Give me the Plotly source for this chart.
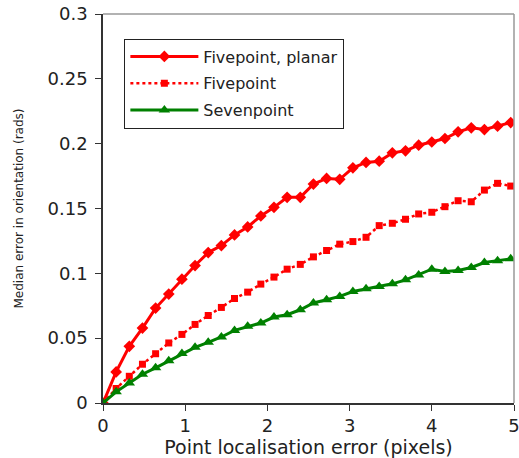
import plotly.graph_objects as go

x_vals = [0.0, 0.16, 0.32, 0.48, 0.64, 0.80, 0.96, 1.12, 1.28, 1.44, 1.60, 1.76, 1.92, 2.08, 2.24, 2.40,
          2.56, 2.72, 2.88, 3.04, 3.20, 3.36, 3.52, 3.68, 3.84, 4.00, 4.16, 4.32, 4.48, 4.64, 4.80, 4.96]

fivepoint_planar = [0, 0.024, 0.0437, 0.0578, 0.0732, 0.084, 0.0955, 0.106, 0.116, 0.1214, 0.1296, 0.1358,
                    0.1442, 0.1509, 0.1586, 0.1586, 0.1688, 0.1732, 0.1725, 0.1814, 0.1855, 0.1865, 0.1929,
                    0.1945, 0.1988, 0.2013, 0.204, 0.2091, 0.2122, 0.2109, 0.2135, 0.2163]

fivepoint = [0, 0.0112, 0.0206, 0.0299, 0.038, 0.0463, 0.0529, 0.0606, 0.0675, 0.0737, 0.0806, 0.0855,
             0.0917, 0.0971, 0.1032, 0.1069, 0.1127, 0.1176, 0.1225, 0.1245, 0.1278, 0.1368, 0.1386,
             0.1417, 0.1458, 0.1471, 0.1514, 0.156, 0.1552, 0.1642, 0.1694, 0.1673]

sevenpoint = [0, 0.0086, 0.0155, 0.0222, 0.0271, 0.0325, 0.0381, 0.0429, 0.0468, 0.0509, 0.056, 0.0591,
              0.0617, 0.0663, 0.0681, 0.0719, 0.0771, 0.0796, 0.0822, 0.086, 0.0881, 0.0898, 0.0919,
              0.095, 0.0988, 0.1032, 0.1014, 0.1022, 0.1045, 0.1083, 0.1098, 0.1112]

series_names = ["Fivepoint, planar", "Fivepoint", "Sevenpoint"]

x_ticks = [0, 1, 2, 3, 4, 5]
x_tick_labels = ["0", "1", "2", "3", "4", "5"]
y_ticks = [0, 0.05, 0.1, 0.15, 0.2, 0.25, 0.3]
y_tick_labels = ["0", "0.05", "0.1", "0.15", "0.2", "0.25", "0.3"]

RED = "#ff0000"
GREEN = "#008000"
FONT = "DejaVu Sans"
TXT = "#222222"

fig = go.Figure()
fig.add_trace(go.Scatter(
    x=x_vals, y=fivepoint_planar, name=series_names[0], mode="lines+markers", legendgroup="a",
    line=dict(color=RED, width=3),
    marker=dict(symbol="diamond", size=9, color=RED),
))
fig.add_trace(go.Scatter(
    x=x_vals, y=fivepoint, name=series_names[1], mode="lines+markers", legendgroup="b",
    line=dict(color=RED, width=2.5, dash="dot"),
    marker=dict(symbol="square", size=7, color=RED),
))
fig.add_trace(go.Scatter(
    x=x_vals, y=sevenpoint, name=series_names[2], mode="lines+markers", legendgroup="c",
    line=dict(color=GREEN, width=3),
    marker=dict(symbol="triangle-up", size=10, color=GREEN),
))

fig.update_layout(
    width=519, height=458,
    margin=dict(l=102.5, r=5, t=13.5, b=54.5, autoexpand=False),
    paper_bgcolor="white", plot_bgcolor="white",
    font=dict(family=FONT, color=TXT),
    showlegend=True,
    legend=dict(
        x=0.052, y=0.937, xanchor="left", yanchor="top",
        bordercolor=TXT, borderwidth=1, bgcolor="white",
        font=dict(size=16, family=FONT, color=TXT),
        itemwidth=68, tracegroupgap=3,
    ),
    xaxis=dict(
        range=[0, 5], tickmode="array", tickvals=x_ticks, ticktext=x_tick_labels,
        ticklabeloverflow="allow", automargin=False,
        showgrid=False, zeroline=False, showline=True, linecolor="#333333", linewidth=1.5,
        ticks="outside", ticklen=6, tickcolor="#333333", tickwidth=1,
        tickfont=dict(size=18, family=FONT, color=TXT),
        title=dict(text="Point localisation error (pixels)", font=dict(size=19, family=FONT, color=TXT), standoff=6),
    ),
    yaxis=dict(
        range=[0, 0.3], tickmode="array", tickvals=y_ticks, ticktext=y_tick_labels,
        automargin=False,
        showgrid=False, zeroline=False, showline=True, linecolor="#333333", linewidth=1.5,
        ticks="outside", ticklen=6, tickcolor="#333333", tickwidth=1, ticklabelstandoff=4,
        tickfont=dict(size=18, family=FONT, color=TXT),
        title=dict(text="Median error in orientation (rads)", font=dict(size=12, family=FONT, color=TXT), standoff=21),
    ),
    shapes=[
        dict(type="line", xref="x domain", yref="y domain", x0=0, x1=1, y0=1, y1=1,
             line=dict(color="#999999", width=1.5)),
        dict(type="line", xref="x domain", yref="y domain", x0=1, x1=1, y0=0, y1=1,
             line=dict(color="#999999", width=1.5)),
    ],
)

fig.write_html("out.html")
